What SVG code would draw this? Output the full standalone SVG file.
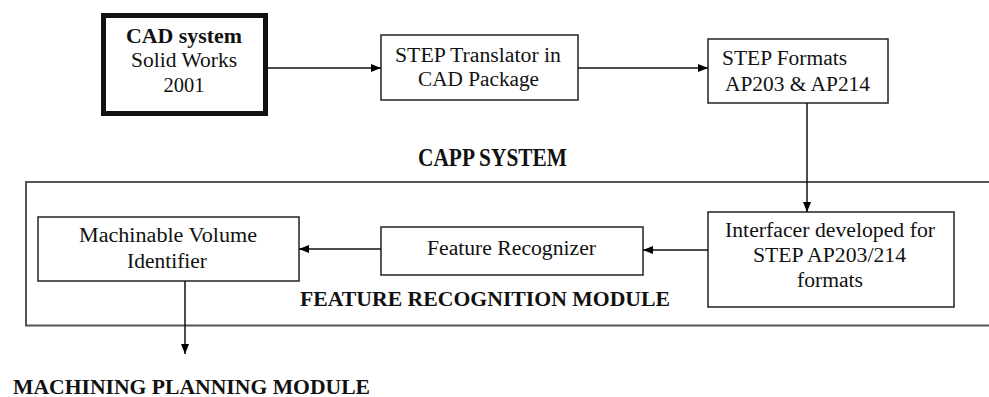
<svg xmlns="http://www.w3.org/2000/svg" width="989" height="397" viewBox="0 0 989 397">
<defs>
<marker id="ah" markerWidth="10" markerHeight="8" refX="10" refY="4" orient="auto" markerUnits="userSpaceOnUse">
<path d="M0,0 L10,4 L0,8 Z" fill="#000"/>
</marker>
<style>
.box{fill:#fff;stroke:#222;stroke-width:1.5}
.t{font-family:"Liberation Serif","Times New Roman","DejaVu Serif",serif;font-size:20px;fill:#111;text-anchor:middle}
.b{font-family:"Liberation Serif","Times New Roman","DejaVu Serif",serif;font-weight:bold;fill:#111}
.c{stroke:#111;stroke-width:1.5;fill:none;marker-end:url(#ah)}
</style>
</defs>
<rect width="989" height="397" fill="#fff"/>
<g id="capp">
<rect x="26" y="182" width="990" height="143.5" fill="none" stroke="#555" stroke-width="2"/>
<text class="b" x="418" y="166" font-size="25" textLength="149" lengthAdjust="spacingAndGlyphs">CAPP SYSTEM</text>
<text class="b" x="300" y="306" font-size="22" textLength="370" lengthAdjust="spacingAndGlyphs">FEATURE RECOGNITION MODULE</text>
</g>
<g id="cad">
<rect x="103.5" y="15.5" width="162" height="98" fill="#fff" stroke="#111" stroke-width="5"/>
<text class="b" x="184" y="43" font-size="21" text-anchor="middle" textLength="116" lengthAdjust="spacingAndGlyphs">CAD system</text>
<text class="t" x="184" y="67" textLength="106" lengthAdjust="spacingAndGlyphs">Solid Works</text>
<text class="t" x="184" y="92" textLength="41" lengthAdjust="spacingAndGlyphs">2001</text>
</g>
<g id="translator">
<rect class="box" x="381" y="35" width="197" height="65"/>
<text class="t" x="478" y="62" textLength="166" lengthAdjust="spacingAndGlyphs">STEP Translator in</text>
<text class="t" x="478.5" y="86" textLength="121" lengthAdjust="spacingAndGlyphs">CAD Package</text>
</g>
<g id="formats">
<rect class="box" x="708" y="39" width="180" height="64"/>
<text class="t" x="784.5" y="65" textLength="125" lengthAdjust="spacingAndGlyphs">STEP Formats</text>
<text class="t" x="797.5" y="91" textLength="145" lengthAdjust="spacingAndGlyphs">AP203 &amp; AP214</text>
</g>
<g id="interfacer">
<rect class="box" x="708" y="212" width="246" height="95"/>
<text class="t" x="830" y="237" textLength="210" lengthAdjust="spacingAndGlyphs">Interfacer developed for</text>
<text class="t" x="829.5" y="262" textLength="153" lengthAdjust="spacingAndGlyphs">STEP AP203/214</text>
<text class="t" x="830" y="287" textLength="66" lengthAdjust="spacingAndGlyphs">formats</text>
</g>
<g id="recognizer">
<rect class="box" x="381" y="227" width="262" height="48"/>
<text class="t" x="511.5" y="255" textLength="169" lengthAdjust="spacingAndGlyphs">Feature Recognizer</text>
</g>
<g id="mvi">
<rect class="box" x="38" y="217" width="261" height="64"/>
<text class="t" x="168" y="242" textLength="178" lengthAdjust="spacingAndGlyphs">Machinable Volume</text>
<text class="t" x="167" y="268" textLength="80" lengthAdjust="spacingAndGlyphs">Identifier</text>
</g>
<g id="mpm">
<text class="b" x="13" y="394" font-size="20" textLength="357" lengthAdjust="spacingAndGlyphs">MACHINING PLANNING MODULE</text>
</g>
<g id="connectors">
<line class="c" x1="268" y1="68" x2="381" y2="68"/>
<line class="c" x1="578" y1="68" x2="708" y2="68"/>
<line class="c" x1="807" y1="103" x2="807" y2="212"/>
<line class="c" x1="708" y1="250" x2="643" y2="250"/>
<line class="c" x1="381" y1="249" x2="299" y2="249"/>
<line class="c" x1="185" y1="281" x2="185" y2="354"/>
</g>
</svg>
